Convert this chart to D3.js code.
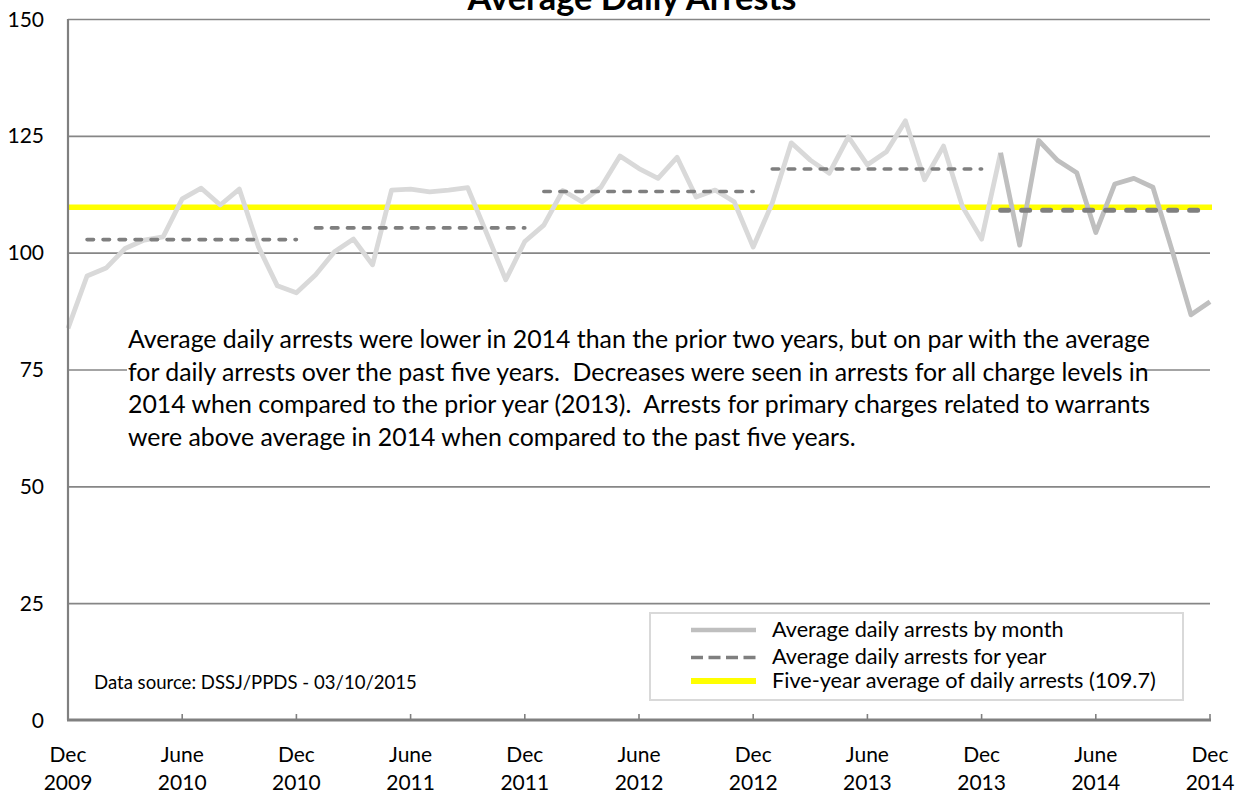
<!DOCTYPE html>
<html lang="en">

<head>
    <meta charset="UTF-8">
    <title>Average Daily Arrests</title>
    <script src="https://d3js.org/d3.v7.min.js"></script>
    <style>
        body {
            margin: 0;
            background: #ffffff;
            font-family: 'Lato', 'Open Sans', sans-serif;
        }

        svg {
            display: block;
        }

        .grid line {
            stroke: #868686;
            stroke-width: 1.6;
        }

        .grid .domain {
            display: none;
        }

        .tick-label {
            font-size: 21px;
            fill: #000000;
        }

        .note {
            font-size: 24px;
            fill: #000000;
            white-space: pre;
        }

        .legend-text {
            font-size: 22px;
            fill: #000000;
        }
    </style>
</head>

<body>
    <svg width="1236" height="793"></svg>
    <script>
        // monthly average daily arrests, Dec 2009 .. Dec 2014
        const monthlyArrests = [
            83.8, 95.0, 96.7, 100.9, 102.7, 103.4, 111.5, 113.8, 110.2, 113.6, 101.3, 92.9,
            91.4, 95.2, 100.2, 102.9, 97.4, 113.4, 113.6, 113.0, 113.4, 113.9, 104.1, 94.2,
            102.4, 105.9, 113.3, 110.9, 114.0, 120.7, 118.0, 115.9, 120.4, 111.9, 113.4, 110.9,
            101.2, 110.6, 123.5, 119.8, 117.0, 124.8, 118.8, 121.6, 128.2, 115.6, 122.8, 109.8,
            102.9, 121.4, 101.6, 124.0, 119.7, 117.1, 104.3, 114.7, 115.9, 114.0, 100.6, 86.7,
            89.5
        ];

        const years = [2010, 2011, 2012, 2013, 2014];
        const yearlyAverage = [102.8, 105.3, 113.1, 117.9, 109.1];
        const fiveYearAverage = 109.7;

        const yTicks = [0, 25, 50, 75, 100, 125, 150];
        const tickMonths = ["2009-12", "2010-06", "2010-12", "2011-06", "2011-12", "2012-06",
            "2012-12", "2013-06", "2013-12", "2014-06", "2014-12"];
        const tickMonthNames = ["Dec", "June", "Dec", "June", "Dec", "June", "Dec", "June", "Dec", "June", "Dec"];
        const tickYears = ["2009", "2010", "2010", "2011", "2011", "2012", "2012", "2013", "2013", "2014", "2014"];

        const legendLabels = [
            "Average daily arrests by month",
            "Average daily arrests for year",
            "Five-year average of daily arrests (109.7)"
        ];

        const noteLines = [
            "Average daily arrests were lower in 2014 than the prior two years, but on par with the average",
            "for daily arrests over the past five years.  Decreases were seen in arrests for all charge levels in",
            "2014 when compared to the prior year (2013).  Arrests for primary charges related to warrants",
            "were above average in 2014 when compared to the past five years."
        ];

        const fmt = d3.timeFormat("%Y-%m");
        const months = d3.timeMonth.range(new Date(2009, 11, 1), new Date(2015, 0, 1)).map(fmt);

        const margin = { top: 19, right: 26, bottom: 73, left: 68 };
        const width = 1236 - margin.left - margin.right;
        const height = 793 - margin.top - margin.bottom;

        const svg = d3.select("svg");
        const g = svg.append("g").attr("transform", `translate(${margin.left},${margin.top})`);

        const x = d3.scalePoint().domain(months).range([0, width]);
        const y = d3.scaleLinear().domain([0, 150]).range([height, 0]);

        // scale a text's font so that it spans the given width
        function fitFont(sel, target) {
            const w = sel.node().getComputedTextLength();
            const fs = parseFloat(sel.style("font-size"));
            return fs * target / w;
        }

        // horizontal grid
        g.append("g")
            .attr("class", "grid")
            .call(d3.axisLeft(y).tickValues(yTicks.slice(1)).tickSize(-width).tickFormat(""));

        // y labels
        g.selectAll(".y-label")
            .data(yTicks)
            .enter()
            .append("text")
            .attr("class", "tick-label")
            .attr("x", -24)
            .attr("y", d => y(d) + 7.5)
            .attr("text-anchor", "end")
            .text(d => d);

        // five-year average
        g.append("line")
            .attr("x1", 0)
            .attr("x2", width + 2)
            .attr("y1", y(fiveYearAverage))
            .attr("y2", y(fiveYearAverage))
            .attr("stroke", "#ffff00")
            .attr("stroke-width", 5.5);

        const line = d3.line()
            .x(d => x(d.month))
            .y(d => y(d.value));

        const monthly = monthlyArrests.map((v, i) => ({ month: months[i], value: v }));

        g.append("path")
            .datum(monthly.slice(0, 50))
            .attr("d", line)
            .attr("fill", "none")
            .attr("stroke", "#d9d9d9")
            .attr("stroke-width", 4.8)
            .attr("stroke-linejoin", "round");

        g.append("path")
            .datum(monthly.slice(49))
            .attr("d", line)
            .attr("fill", "none")
            .attr("stroke", "#bfbfbf")
            .attr("stroke-width", 4.8)
            .attr("stroke-linejoin", "round");

        // yearly averages
        years.forEach((yr, i) => {
            const last = yr === 2014;
            g.append("line")
                .attr("x1", x(`${yr}-01`))
                .attr("x2", x(`${yr}-12`))
                .attr("y1", y(yearlyAverage[i]))
                .attr("y2", y(yearlyAverage[i]))
                .attr("stroke", "#7f7f7f")
                .attr("stroke-width", last ? 5 : 3.6)
                .attr("stroke-linecap", "round")
                .attr("stroke-dasharray", last ? "8,13" : "6.5,9.5");
        });

        // note box
        g.append("rect")
            .attr("x", 127 - margin.left)
            .attr("y", 325 - margin.top)
            .attr("width", 1012)
            .attr("height", 135)
            .attr("fill", "#ffffff");

        const notes = g.selectAll(".note")
            .data(noteLines)
            .enter()
            .append("text")
            .attr("class", "note")
            .attr("x", 128 - margin.left)
            .attr("y", (d, i) => 348 - margin.top + i * 32.5)
            .text(d => d);

        const noteSize = fitFont(notes.filter((d, i) => i === 0), 1022);
        notes.style("font-size", noteSize + "px");

        // axes
        g.append("line")
            .attr("x1", 0).attr("x2", 0)
            .attr("y1", 0).attr("y2", height)
            .attr("stroke", "#808080")
            .attr("stroke-width", 2.2);

        g.append("line")
            .attr("x1", -1).attr("x2", width + 1)
            .attr("y1", height).attr("y2", height)
            .attr("stroke", "#808080")
            .attr("stroke-width", 3);

        g.selectAll(".x-tick")
            .data(tickMonths.slice(1))
            .enter()
            .append("line")
            .attr("x1", d => x(d)).attr("x2", d => x(d))
            .attr("y1", height).attr("y2", height - 6)
            .attr("stroke", "#808080")
            .attr("stroke-width", 1.6);

        const xLabels = g.selectAll(".x-label")
            .data(tickMonths)
            .enter()
            .append("text")
            .attr("class", "tick-label")
            .attr("text-anchor", "middle")
            .attr("transform", d => `translate(${x(d)},${height})`);

        xLabels.append("tspan")
            .attr("x", 0)
            .attr("y", 42)
            .text((d, i) => tickMonthNames[i]);

        xLabels.append("tspan")
            .attr("x", 0)
            .attr("y", 70)
            .text((d, i) => tickYears[i]);

        // title, its top half runs off the page as in the original
        const title = svg.append("text")
            .attr("x", 632)
            .attr("y", 10)
            .attr("text-anchor", "middle")
            .attr("font-weight", "bold")
            .style("font-size", "27px")
            .text("Average Daily Arrests");
        title.style("font-size", fitFont(title, 329) + "px");

        // data source
        const source = svg.append("text")
            .attr("x", 94)
            .attr("y", 689)
            .style("font-size", "16px")
            .text("Data source: DSSJ/PPDS - 03/10/2015");
        source.style("font-size", fitFont(source, 323) + "px");

        // legend
        const legend = svg.append("g").attr("transform", "translate(650,613)");

        legend.append("rect")
            .attr("width", 533)
            .attr("height", 87)
            .attr("fill", "#ffffff")
            .attr("stroke", "#d9d9d9")
            .attr("stroke-width", 2);

        const legendStyles = [
            { color: "#bfbfbf", width: 4.5, dash: null },
            { color: "#7f7f7f", width: 3.6, dash: "12,5.5" },
            { color: "#ffff00", width: 6, dash: null }
        ];

        const legendRows = [17, 44.5, 68];

        legendStyles.forEach((s, i) => {
            legend.append("line")
                .attr("x1", 41).attr("x2", 106)
                .attr("y1", legendRows[i]).attr("y2", legendRows[i])
                .attr("stroke", s.color)
                .attr("stroke-width", s.width)
                .attr("stroke-dasharray", s.dash);
        });

        const legendTexts = legend.selectAll(".legend-text")
            .data(legendLabels)
            .enter()
            .append("text")
            .attr("class", "legend-text")
            .attr("x", 122)
            .attr("y", (d, i) => legendRows[i] + 6.5)
            .text(d => d);

        const legendSize = fitFont(legendTexts.filter((d, i) => i === 2), 384);
        legendTexts.style("font-size", legendSize + "px");
    </script>
</body>

</html>
